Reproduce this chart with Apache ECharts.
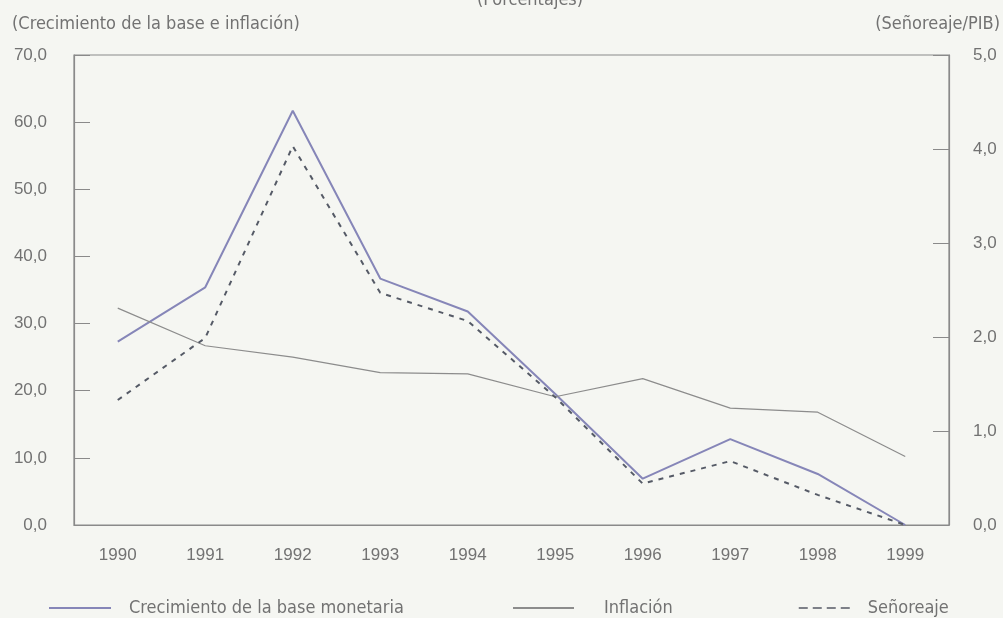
<!DOCTYPE html>
<html><head><meta charset="utf-8">
<script src="https://cdn.jsdelivr.net/npm/echarts@6/dist/echarts.min.js"></script>
<style>html,body{margin:0;padding:0;background:#f5f6f2}#c{width:1003px;height:618px}</style>
</head><body><div id="c"></div>
<script>
const years = ['1990','1991','1992','1993','1994','1995','1996','1997','1998','1999'];
const baseMonetaria = [27.3, 35.4, 61.7, 36.7, 31.8, 19.5, 6.9, 12.8, 7.6, 0.0];
const inflacion = [32.3, 26.7, 25.0, 22.7, 22.5, 19.1, 21.8, 17.4, 16.8, 10.2];
const senoreaje = [1.33, 1.99, 4.03, 2.47, 2.17, 1.36, 0.44, 0.68, 0.32, 0.0];

const NARROW = '"Liberation Sans Narrow","DejaVu Sans Condensed",sans-serif';
const NUMF = '"Liberation Sans",Arial,sans-serif';
const TXT = '#727272';
const AX = '#8a8a8a';
const chart = echarts.init(document.getElementById('c'));
const fmt = v => v.toFixed(1).replace('.', ',');
const txt = {fontFamily: NARROW, fontSize: 18, fontWeight: 'normal', color: TXT};
chart.setOption({
  backgroundColor: '#f5f6f2',
  animation: false,
  textStyle: {fontFamily: NARROW},
  title: [
    {text: '(Porcentajes)', left: 530, top: -9, textAlign: 'center', padding: 0, textStyle: txt},
    {text: '(Crecimiento de la base e inflación)', left: 12, top: 15, padding: 0, textStyle: txt},
    {text: '(Señoreaje/PIB)', right: 3, top: 15, padding: 0, textStyle: txt}
  ],
  grid: {left: 74, right: 54, top: 55, bottom: 93, show: true, borderColor: AX, borderWidth: 1.2, backgroundColor: 'transparent'},
  legend: [
    {data: ['Crecimiento de la base monetaria'], left: 48, top: 599, padding: 0, itemWidth: 62, itemHeight: 14,
      itemStyle: {opacity: 0}, textStyle: {fontFamily: NARROW, fontSize: 18, color: TXT, padding: [0,0,0,13]}},
    {data: ['Inflación'], left: 512, top: 599, padding: 0, itemWidth: 61, itemHeight: 14,
      itemStyle: {opacity: 0}, textStyle: {fontFamily: NARROW, fontSize: 18, color: TXT, padding: [0,0,0,25]}},
    {data: ['Señoreaje'], left: 798, top: 599, padding: 0, itemWidth: 54, itemHeight: 14,
      itemStyle: {opacity: 0}, lineStyle: {type: [9, 5], width: 1.5},
      textStyle: {fontFamily: NARROW, fontSize: 18, color: TXT, padding: [0,0,0,10]}}
  ],
  xAxis: {type: 'category', data: years, boundaryGap: true,
    axisLine: {lineStyle: {color: AX, width: 1.2}},
    axisTick: {inside: true, length: 10, lineStyle: {color: AX}},
    axisLabel: {fontFamily: NUMF, fontSize: 17, color: TXT, margin: 22}},
  yAxis: [
    {type: 'value', min: 0, max: 70, interval: 10, position: 'left',
      axisLine: {show: true, lineStyle: {color: AX, width: 1.2}},
      axisTick: {show: true, inside: true, length: 16, lineStyle: {color: AX}},
      splitLine: {show: false},
      axisLabel: {fontFamily: NUMF, fontSize: 17, color: TXT, margin: 27, formatter: fmt}},
    {type: 'value', min: 0, max: 5, interval: 1, position: 'right',
      axisLine: {show: true, lineStyle: {color: AX, width: 1.2}},
      axisTick: {show: true, inside: true, length: 16, lineStyle: {color: AX}},
      splitLine: {show: false},
      axisLabel: {fontFamily: NUMF, fontSize: 17, color: TXT, margin: 24, formatter: fmt}}
  ],
  series: [
    {name: 'Crecimiento de la base monetaria', type: 'line', yAxisIndex: 0, data: baseMonetaria,
      symbol: 'none', lineStyle: {color: '#8686b8', width: 2}, itemStyle: {color: '#8686b8'}},
    {name: 'Inflación', type: 'line', yAxisIndex: 0, data: inflacion,
      symbol: 'none', lineStyle: {color: '#8c8c8c', width: 1.2}, itemStyle: {color: '#8c8c8c'}},
    {name: 'Señoreaje', type: 'line', yAxisIndex: 1, data: senoreaje,
      symbol: 'none', lineStyle: {color: '#555a66', width: 2, type: [5, 6]}, itemStyle: {color: '#555a66'}}
  ]
});
</script></body></html>
